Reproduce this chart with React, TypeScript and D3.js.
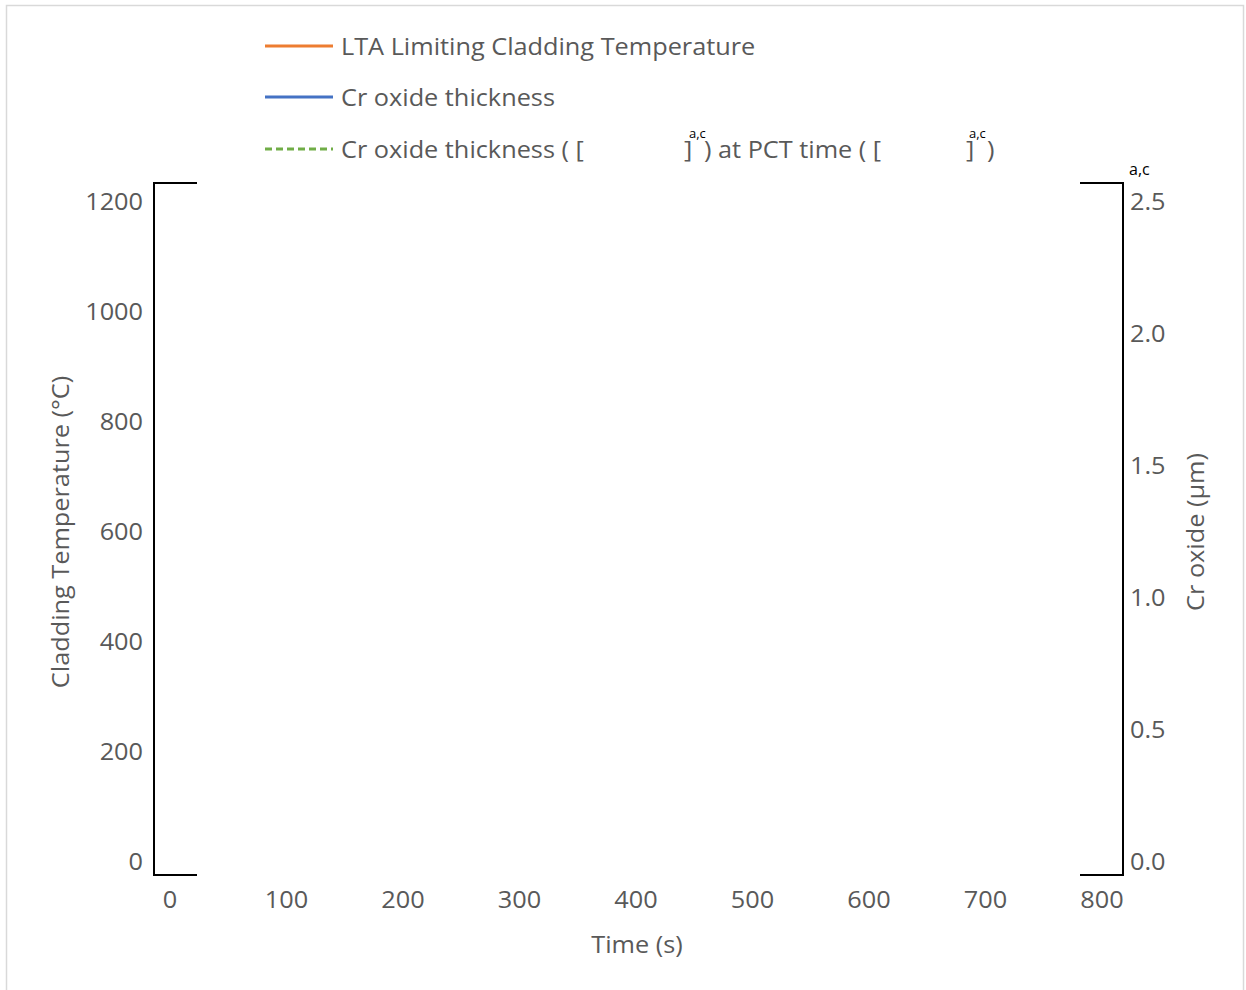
import * as d3 from 'd3';
import React from 'react';

// axis ticks
const timeTicks = [0, 100, 200, 300, 400, 500, 600, 700, 800];
const tempTicks = [0, 200, 400, 600, 800, 1000, 1200];
const oxideTicks = [0, 0.5, 1.0, 1.5, 2.0, 2.5];

// series (values are redacted in the source figure)
const tempSeries: [number, number][] = [];
const oxideSeries: [number, number][] = [];

const legendNames = ['LTA Limiting Cladding Temperature', 'Cr oxide thickness'];
const legendColors = ['#ED7D31', '#4472C4', '#70AD47'];

const W = 1246;
const H = 990;
const font = '"Open Sans", sans-serif';
const grey = '#595959';
const SX = 1.1; // source text is a bit wider than Open Sans

// text drawn with a small horizontal stretch
const T = ({ x, y, anchor = 'start', rotate = 0, children }: any) => (
    <text transform={`translate(${x},${y}) rotate(${rotate}) scale(${SX},1)`}
        textAnchor={anchor} dominantBaseline="central">{children}</text>
);

const App = () => {
    const x = d3.scaleLinear().domain([0, 800]).range([170, 1102]);
    const yL = d3.scaleLinear().domain([0, 1200]).range([861, 201]);
    const yR = d3.scaleLinear().domain([0, 2.5]).range([861, 201]);

    const lineL = d3.line<[number, number]>().x(d => x(d[0])).y(d => yL(d[1]));
    const lineR = d3.line<[number, number]>().x(d => x(d[0])).y(d => yR(d[1]));

    // frame around plot area
    const left = 154, right = 1123, top = 183, bottom = 875, arm = 43;

    const legendY = [46, 97, 149];

    return (
        <svg width={W} height={H} style={{ position: 'absolute', left: 0, top: 0, background: '#fff' }}>
            <rect x={6.5} y={5.5} width={1237} height={1000} fill="#fff" stroke="#d9d9d9" strokeWidth={1.5} />

            {/* legend */}
            {legendY.map((ly, i) => (
                <line key={i} x1={265} x2={333} y1={ly} y2={ly}
                    stroke={legendColors[i]} strokeWidth={3}
                    strokeDasharray={i === 2 ? '7,4' : undefined} />
            ))}
            <g fontFamily={font} fontSize={23} fill={grey}>
                {legendNames.map((name, i) => (
                    <T key={name} x={341} y={legendY[i]}>{name}</T>
                ))}
                <T x={341} y={legendY[2]}>Cr oxide thickness ( [</T>
                <T x={684} y={legendY[2]}>]</T>
                <T x={704} y={legendY[2]}>) at PCT time ( [</T>
                <T x={966} y={legendY[2]}>]</T>
                <T x={987} y={legendY[2]}>)</T>
            </g>
            <g fontFamily={font} fontSize={13} fill="#000">
                <text x={689} y={legendY[2] - 11}>a,c</text>
                <text x={969} y={legendY[2] - 11}>a,c</text>
                <text x={1129} y={175} fontSize={16}>a,c</text>
            </g>

            {/* series */}
            <path d={lineL(tempSeries) || ''} fill="none" stroke={legendColors[0]} strokeWidth={3} />
            <path d={lineR(oxideSeries) || ''} fill="none" stroke={legendColors[1]} strokeWidth={3} />

            {/* redaction brackets */}
            <path d={`M${left + arm},${top}H${left}V${bottom}H${left + arm}`} fill="none" stroke="#000" strokeWidth={2} />
            <path d={`M${right - arm},${top}H${right}V${bottom}H${right - arm}`} fill="none" stroke="#000" strokeWidth={2} />

            {/* tick labels */}
            <g fontFamily={font} fontSize={23} fill={grey}>
                {tempTicks.map(t => (
                    <T key={t} x={143} y={yL(t)} anchor="end">{t}</T>
                ))}
                {oxideTicks.map(t => (
                    <T key={t} x={1130} y={yR(t)}>{d3.format('.1f')(t)}</T>
                ))}
                {timeTicks.map(t => (
                    <T key={t} x={x(t)} y={899} anchor="middle">{t}</T>
                ))}
            </g>

            {/* axis titles */}
            <g fontFamily={font} fontSize={23} fill={grey}>
                <T x={637} y={944} anchor="middle">Time (s)</T>
                <T x={60} y={532} anchor="middle" rotate={-90}>Cladding Temperature (°C)</T>
                <T x={1195} y={532} anchor="middle" rotate={-90}>Cr oxide (µm)</T>
            </g>
        </svg>
    );
};

export default App;
